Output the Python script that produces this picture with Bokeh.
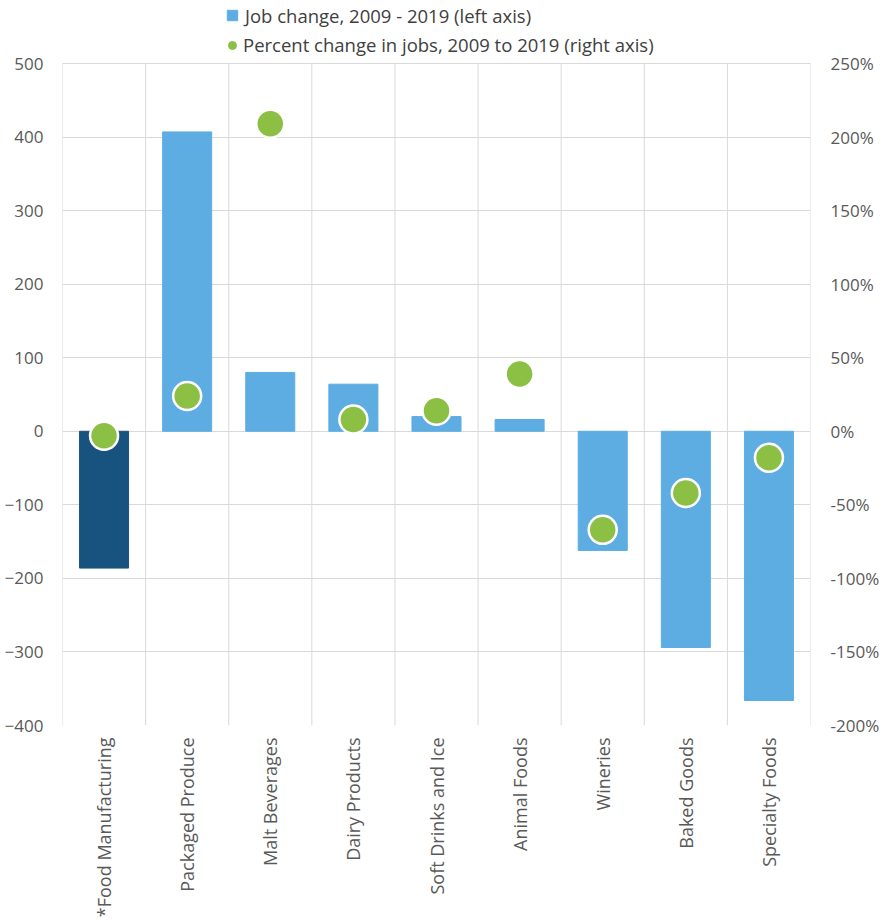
import math

from bokeh.embed import file_html
from bokeh.models import (ColumnDataSource, FixedTicker, Legend, LegendItem,
                          LinearAxis, PrintfTickFormatter, Range1d)
from bokeh.plotting import figure
from bokeh.resources import INLINE

# Industry categories and their 2009-2019 changes
categories = ["*Food Manufacturing", "Packaged Produce", "Malt Beverages",
              "Dairy Products", "Soft Drinks and Ice", "Animal Foods",
              "Wineries", "Baked Goods", "Specialty Foods"]
job_change = [-186, 407, 80, 64, 20, 16, -162, -294, -366]
pct_change = [-3, 24, 209, 8, 14, 39, -67, -42, -18]

left_ticks = [-400, -300, -200, -100, 0, 100, 200, 300, 400, 500]
right_ticks = [-200, -150, -100, -50, 0, 50, 100, 150, 200, 250]

FONT = "Open Sans"
TEXT = "#595959"
BLUE = "#5DADE2"
DARK = "#185380"
GREEN = "#8BC045"
GRID = "#D9D9D9"

W, H = 888, 923
LEFT, RIGHT, BOTTOM = 62, 78, 198
PLOT_TOP = 63          # pixel row of the top gridline
FRAME_H = H - BOTTOM   # frame runs from the canvas top to the x axis

# The frame reaches the top of the canvas so that the legend (drawn in the
# frame) can sit above the gridded area; ranges are stretched accordingly.
lo_l, hi_l = left_ticks[0], left_ticks[-1]
lo_r, hi_r = right_ticks[0], right_ticks[-1]
grid_h = FRAME_H - PLOT_TOP
top_l = lo_l + (hi_l - lo_l) * FRAME_H / grid_h
top_r = lo_r + (hi_r - lo_r) * FRAME_H / grid_h

x_pos = [i + 0.5 for i in range(len(categories))]
bounds = list(range(len(categories) + 1))
bar_colors = [DARK] + [BLUE] * (len(categories) - 1)

src = ColumnDataSource(dict(x=x_pos, jobs=job_change, pct=pct_change,
                            color=bar_colors))

p = figure(width=W, height=H, output_backend="svg", toolbar_location=None,
           x_range=Range1d(0, len(categories)), y_range=Range1d(lo_l, top_l),
           min_border_left=LEFT, min_border_right=RIGHT, min_border_top=0,
           min_border_bottom=BOTTOM)
p.outline_line_color = None
p.background_fill_color = "white"
p.extra_y_ranges = {"pct": Range1d(lo_r, top_r)}

# Vertical separators between categories, limited to the gridded area
p.segment(x0=bounds, y0=[lo_l] * len(bounds), x1=bounds, y1=[hi_l] * len(bounds),
          line_color=GRID, line_width=1)

p.vbar(x="x", top="jobs", bottom=0, width=0.59, color="color", source=src)
p.scatter(x="x", y="pct", size=28, fill_color=GREEN, line_color="white",
          line_width=2.5, y_range_name="pct", source=src)

# Axes
p.xaxis.ticker = FixedTicker(ticks=x_pos)
p.xaxis.major_label_overrides = {x: c for x, c in zip(x_pos, categories)}
p.xaxis.major_label_orientation = math.pi / 2
p.xaxis.major_label_standoff = 12

p.yaxis.ticker = FixedTicker(ticks=left_ticks)

right = LinearAxis(y_range_name="pct", ticker=FixedTicker(ticks=right_ticks),
                   formatter=PrintfTickFormatter(format="%d%%"))
p.add_layout(right, "right")

for ax in p.xaxis + p.yaxis:
    ax.axis_line_color = None
    ax.major_tick_line_color = None
    ax.minor_tick_line_color = None
    ax.major_tick_out = 0
    ax.major_tick_in = 0
    ax.minor_tick_out = 0
    ax.minor_tick_in = 0
    ax.major_label_text_font = FONT
    ax.major_label_text_font_size = "17px"
    ax.major_label_text_color = TEXT
p.xaxis.major_label_text_font_size = "18px"
p.yaxis[0].major_label_standoff = 19
right.major_label_standoff = 20

# Horizontal gridlines at the left-axis ticks; separators drawn above
p.ygrid.ticker = FixedTicker(ticks=left_ticks)
p.ygrid.grid_line_color = GRID
p.xgrid.grid_line_color = None

# Legend swatches (zero-size markers, only their legend glyphs show)
sq = p.scatter(x="x", y="jobs", source=src, size=0, marker="square",
               fill_color=BLUE, line_color=BLUE)
dot = p.scatter(x="x", y="pct", source=src, size=0, marker="circle",
                fill_color=GREEN, line_color=GREEN, y_range_name="pct")


def make_legend(label, renderer, glyph, x, top, standoff):
    leg = Legend(items=[LegendItem(label=label, renderers=[renderer], index=0)],
                 location=(x - LEFT, FRAME_H - top - glyph),
                 glyph_width=glyph, glyph_height=glyph, label_height=glyph,
                 label_standoff=standoff, padding=0, margin=0,
                 border_line_color=None, background_fill_alpha=0,
                 label_text_font=FONT, label_text_font_size="18.5px",
                 label_text_color="#404040")
    p.add_layout(leg, "center")


make_legend("Job change, 2009 - 2019 (left axis)", sq, 26, 219, 2, 0)
make_legend("Percent change in jobs, 2009 to 2019 (right axis)", dot, 20,
            222, 37, 1)

open("out.html", "w").write(file_html(p, INLINE))
